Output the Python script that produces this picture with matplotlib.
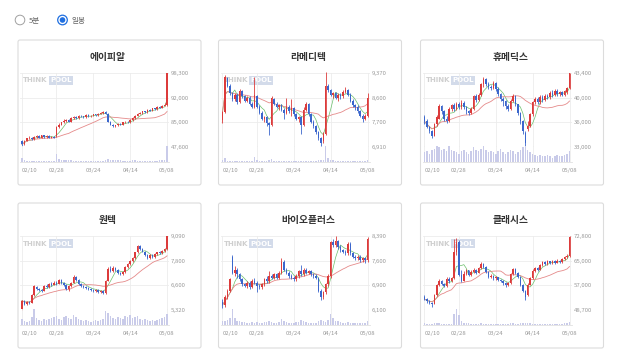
import numpy as np
import pandas as pd
import matplotlib
matplotlib.use("Agg")
import matplotlib.pyplot as plt
from matplotlib.patches import FancyBboxPatch, Circle

plt.rcParams["font.family"] = ["Noto Sans CJK KR", "DejaVu Sans"]

# ---- data -------------------------------------------------------------
date_ticks = [0, 14, 29, 44, 59]
date_labels = ["02/10", "02/28", "03/24", "04/14", "05/08"]

names = ["에이피알", "라메디텍", "휴메딕스", "원텍", "바이오플러스", "클래시스"]

# 에이피알
apr_open = [52000, 49500, 52000, 53500, 54000, 53000, 54500, 55000, 54000, 55500,
            54500, 55000, 54000, 54500, 55000, 61000, 63000, 64500, 65500, 66000,
            65000, 67500, 68000, 67500, 69000, 68500, 68000, 69500, 68500, 69000,
            70000, 69500, 70500, 71000, 71500, 70500, 65000, 63000, 62000, 62500,
            63500, 63000, 64500, 65000, 64500, 66000, 67500, 69000, 70500, 71000,
            72000, 71500, 73000, 72500, 74000, 73500, 75000, 74500, 76000, 76500]
apr_close = [49500, 52000, 53500, 54000, 53000, 54500, 55000, 54000, 55500, 54500,
             55000, 54000, 54500, 54000, 61000, 63000, 64500, 65500, 66000, 65000,
             67500, 68000, 67500, 69000, 68500, 68000, 69500, 68500, 69000, 70000,
             69500, 70500, 71000, 71500, 70500, 65000, 63000, 62000, 62500, 63500,
             63000, 64500, 65000, 64500, 66000, 67500, 69000, 70500, 71000, 72000,
             71500, 73000, 72500, 74000, 73500, 75000, 74500, 76000, 76500, 98300]
apr_high = [52500, 52500, 54000, 55000, 54500, 55000, 55500, 55500, 56000, 56000,
            55500, 55500, 55000, 55000, 62000, 64000, 65000, 66500, 67000, 66500,
            68000, 68500, 68500, 69500, 69500, 69000, 70000, 70000, 69500, 70500,
            70500, 71000, 71500, 72000, 72000, 71000, 65500, 63500, 63000, 64000,
            64000, 65000, 65500, 65500, 66500, 68000, 69500, 71000, 71500, 72500,
            72500, 73500, 73500, 74500, 74500, 75500, 75500, 76500, 77500, 98300]
apr_low = [48000, 49000, 51500, 53000, 52500, 52500, 54000, 53500, 53500, 54000,
           54000, 53500, 53500, 53500, 54500, 60500, 62500, 64000, 65000, 64500,
           64500, 67000, 67000, 67000, 68000, 67500, 67500, 68000, 68000, 68500,
           69000, 69000, 70000, 70500, 70000, 64500, 62500, 61500, 61500, 62000,
           62500, 62500, 64000, 64000, 64000, 65500, 67000, 68500, 70000, 70500,
           71000, 71000, 72000, 72000, 73000, 73000, 74000, 74000, 75500, 76000]
apr_vol = [20, 8, 6, 6, 5, 5, 6, 5, 5, 4, 5, 4, 5, 6, 50, 18, 12, 10, 8, 7,
           8, 6, 6, 5, 6, 5, 5, 6, 5, 6, 5, 6, 6, 5, 8, 18, 12, 10, 8, 7,
           8, 6, 6, 5, 6, 7, 8, 6, 5, 6, 5, 6, 5, 6, 6, 5, 7, 8, 10, 100]
apr_ylabels = ["98,300", "92,000", "85,000", "47,600"]

# 라메디텍
lmd_open = [7800, 8070, 9200, 8950, 8700, 8500, 8650, 8400, 8780, 8600,
            8450, 8550, 8350, 8250, 8600, 8250, 8050, 7850, 7900, 7700,
            7650, 8500, 8350, 8250, 8300, 8150, 8050, 8250, 8100, 8200,
            8000, 7850, 7900, 7650, 8150, 8350, 8000, 7750, 7600, 7400,
            7200, 7100, 7350, 8950, 8800, 8650, 8700, 8550, 8650, 8600,
            8750, 8800, 8650, 8450, 8300, 8250, 8100, 7950, 7850, 7950]
lmd_close = [8070, 9230, 8950, 8700, 8500, 8650, 8400, 8780, 8600, 8450,
             8550, 8350, 8250, 8650, 8250, 8050, 7850, 7900, 7700, 7650,
             8550, 8350, 8250, 8300, 8150, 8050, 8250, 8100, 8200, 8000,
             7850, 7900, 7650, 8150, 8350, 8000, 7750, 7600, 7400, 7200,
             7050, 7350, 8950, 8800, 8650, 8700, 8550, 8650, 8600, 8750,
             8800, 8650, 8450, 8300, 8250, 8100, 7950, 7850, 7950, 8550]
lmd_high = [8100, 9300, 9250, 9000, 8750, 8700, 8700, 8850, 8800, 8650,
            8600, 8600, 8400, 9250, 8650, 8300, 8100, 7950, 7950, 7750,
            8600, 8550, 8400, 8350, 8350, 8200, 8550, 8300, 8500, 8250,
            8050, 7950, 7950, 8250, 8400, 8380, 8050, 7800, 7650, 7450,
            7250, 7400, 9400, 9000, 8850, 8750, 8750, 8700, 8700, 8800,
            8900, 8850, 8700, 8500, 8350, 8300, 8150, 8000, 8000, 8700]
lmd_low = [7700, 8050, 8900, 8650, 8450, 8450, 8350, 8380, 8550, 8400,
           8400, 8300, 8200, 8200, 8200, 8000, 7800, 7750, 7600, 7320,
           7600, 8300, 8200, 8150, 8100, 7850, 8000, 8050, 7950, 7950,
           7800, 7750, 7350, 7600, 8100, 7950, 7700, 7550, 7350, 7150,
           6950, 7050, 7300, 8750, 8600, 8550, 8500, 8450, 8500, 8550,
           8700, 8600, 8400, 8250, 8150, 8050, 7900, 7750, 7800, 7900]
lmd_vol = [8, 25, 5, 5, 4, 4, 5, 4, 5, 4, 4, 5, 6, 30, 10, 6, 5, 5, 6, 8,
           15, 6, 5, 4, 5, 5, 6, 4, 5, 4, 5, 4, 6, 5, 4, 5, 4, 5, 6, 8,
           10, 12, 100, 25, 10, 8, 6, 5, 5, 6, 5, 5, 4, 5, 4, 5, 4, 5, 6, 10]
lmd_ylabels = ["9,370", "8,600", "7,700", "6,910"]

# 휴메딕스
hmd_open = [37200, 36600, 35800, 35200, 34600, 36200, 37000, 38700, 38000, 37000,
            36700, 38300, 38900, 38400, 39000, 38600, 39200, 38600, 38000, 37800,
            38400, 40100, 39600, 40300, 41800, 42500, 41900, 41500, 41300, 42000,
            41200, 40400, 39800, 39400, 38800, 38300, 39500, 40200, 39000, 37800,
            36600, 35000, 35500, 36000, 37600, 39300, 39700, 39300, 40000, 39600,
            40200, 40000, 40600, 40300, 40900, 40400, 40700, 40300, 40800, 41300]
hmd_close = [36600, 35800, 35200, 34600, 36200, 37200, 38700, 38000, 37000, 36700,
             38300, 38900, 38400, 39000, 38600, 39200, 38600, 38000, 37800, 38400,
             40100, 39600, 40300, 41800, 42500, 41900, 41500, 41300, 42000, 41200,
             40400, 39800, 39400, 38800, 38300, 39500, 40200, 39000, 37800, 36600,
             35200, 33600, 36000, 37600, 39300, 39700, 39300, 40000, 39600, 40200,
             40000, 40600, 40300, 40900, 40400, 40700, 40300, 40800, 41300, 43400]
hmd_high = [37500, 36900, 36000, 35400, 36400, 37500, 39000, 38900, 38200, 37300,
            38600, 39100, 39200, 39300, 39300, 39600, 39400, 38800, 38200, 38600,
            40300, 40500, 40600, 42000, 42800, 42700, 42100, 41700, 42300, 42100,
            41400, 40600, 40000, 39600, 39000, 39800, 40400, 40300, 39100, 37900,
            36800, 35200, 36600, 37800, 39500, 40000, 40000, 40300, 40300, 40500,
            40500, 40900, 41000, 41100, 41100, 40900, 40900, 41000, 41500, 43400]
hmd_low = [36300, 35600, 34900, 34200, 34500, 36000, 36900, 37600, 36700, 36400,
           36500, 38000, 38100, 38200, 38300, 38400, 38300, 37700, 37500, 37600,
           38200, 39300, 39400, 40100, 41500, 41600, 41100, 41000, 41100, 40900,
           40100, 39500, 38800, 38400, 38000, 38200, 39300, 38700, 37500, 36300,
           34800, 33100, 35200, 35800, 37400, 39000, 39000, 39100, 39300, 39400,
           39700, 39800, 40000, 40100, 40100, 40200, 40100, 40100, 40500, 41200]
hmd_vol = [35, 40, 30, 45, 50, 60, 55, 45, 50, 40, 60, 45, 40, 35, 30, 40, 45, 35, 30, 40,
           55, 45, 40, 50, 60, 45, 35, 40, 35, 30, 40, 50, 35, 30, 35, 45, 40, 30, 35, 45,
           55, 60, 45, 35, 30, 25, 20, 25, 20, 20, 25, 20, 15, 20, 25, 20, 20, 25, 30, 40]
hmd_ylabels = ["43,400", "40,000", "36,000", "33,000"]

# 원텍
wtk_open = [5380, 5800, 5650, 5750, 5700, 6080, 6500, 6400, 6350, 6300,
            6550, 6480, 6650, 6600, 6720, 6650, 6850, 6700, 6600, 6400,
            6550, 6700, 7000, 6850, 6650, 6550, 6500, 6450, 6400, 6350,
            6300, 6350, 6250, 6280, 6180, 6800, 7400, 7300, 7450, 7350,
            7200, 7150, 7250, 7500, 7650, 7800, 7950, 8250, 8600, 8450,
            8300, 8100, 7950, 8100, 8000, 8150, 8250, 8200, 8350, 8450]
wtk_close = [5800, 5650, 5750, 5680, 6080, 6520, 6400, 6350, 6300, 6550,
             6480, 6650, 6600, 6720, 6650, 6850, 6700, 6600, 6400, 6550,
             6700, 7000, 6850, 6650, 6550, 6500, 6450, 6400, 6350, 6300,
             6350, 6250, 6280, 6180, 6800, 7400, 7300, 7450, 7350, 7200,
             7150, 7250, 7500, 7650, 7800, 7950, 8250, 8600, 8450, 8300,
             8100, 7950, 8100, 8000, 8150, 8250, 8200, 8350, 8450, 9090]
wtk_high = [5850, 5850, 5800, 5800, 6120, 6600, 6550, 6450, 6400, 6600,
            6650, 6700, 6750, 6800, 6780, 6900, 6880, 6750, 6650, 6600,
            6750, 7080, 7050, 6900, 6700, 6600, 6550, 6500, 6450, 6400,
            6400, 6400, 6350, 6320, 6850, 7500, 7550, 7550, 7500, 7400,
            7250, 7300, 7550, 7700, 7850, 8000, 8300, 8650, 8650, 8500,
            8350, 8150, 8150, 8150, 8200, 8300, 8350, 8400, 8500, 9090]
wtk_low = [5330, 5600, 5600, 5620, 5680, 6050, 6350, 6300, 6250, 6280,
           6420, 6450, 6550, 6580, 6600, 6620, 6650, 6550, 6350, 6300,
           6500, 6680, 6800, 6600, 6480, 6450, 6400, 6350, 6300, 6250,
           6250, 6200, 6180, 6130, 6150, 6780, 7250, 7250, 7300, 7150,
           7100, 7080, 7200, 7450, 7600, 7750, 7900, 8200, 8400, 8250,
           8050, 7900, 7900, 7950, 7950, 8100, 8150, 8150, 8300, 8400]
wtk_vol = [30, 20, 15, 20, 40, 80, 35, 25, 20, 30, 25, 30, 35, 40, 45, 30, 25, 40, 45, 35,
           30, 50, 40, 30, 25, 20, 25, 20, 15, 20, 25, 20, 25, 30, 70, 60, 45, 35, 30, 40,
           35, 30, 45, 40, 50, 35, 40, 45, 30, 25, 30, 25, 20, 25, 20, 25, 30, 35, 40, 55]
wtk_ylabels = ["9,090", "7,800", "6,600", "5,320"]

# 바이오플러스
bpl_open = [6350, 6250, 6500, 6700, 7750, 7250, 7350, 7200, 7050, 6900,
            6850, 6950, 6800, 7000, 6950, 6850, 6800, 6900, 7050, 7000,
            7150, 7100, 7200, 7100, 7250, 7600, 7350, 7250, 7150, 7100,
            7050, 7150, 7300, 7200, 7350, 7250, 7300, 7200, 7150, 7100,
            6700, 6500, 6650, 6900, 7150, 8200, 8100, 8250, 8050, 7950,
            7900, 7850, 8150, 7850, 7750, 7700, 7750, 7650, 7700, 7650]
bpl_close = [6250, 6500, 6700, 7050, 7250, 7350, 7200, 7050, 6900, 6850,
             6950, 6800, 7000, 6950, 6850, 6800, 6900, 7050, 7000, 7150,
             7100, 7200, 7100, 7250, 7600, 7350, 7250, 7150, 7100, 7050,
             7150, 7300, 7200, 7350, 7250, 7300, 7200, 7150, 7100, 6700,
             6500, 6650, 6900, 7150, 8200, 8100, 8250, 8050, 7950, 7900,
             7850, 8150, 7850, 7750, 7700, 7750, 7650, 7700, 7650, 8300]
bpl_high = [6450, 6550, 6750, 7100, 7800, 7450, 7400, 7250, 7100, 6950,
            7000, 7000, 7050, 7100, 7000, 6900, 6950, 7100, 7150, 7300,
            7200, 7250, 7250, 7300, 7700, 7650, 7400, 7300, 7200, 7150,
            7200, 7350, 7500, 7400, 7400, 7350, 7350, 7250, 7200, 7120,
            6750, 6700, 6950, 7200, 8250, 8300, 8380, 8280, 8100, 8000,
            7950, 8200, 8200, 7900, 7800, 7800, 7800, 7750, 7750, 8350]
bpl_low = [6150, 6200, 6450, 6650, 7200, 7150, 7100, 7000, 6850, 6800,
           6780, 6750, 6780, 6900, 6650, 6750, 6750, 6850, 6950, 6950,
           7050, 7050, 7050, 7050, 7200, 7300, 7200, 7100, 7050, 7000,
           7000, 7100, 7150, 7150, 7200, 7200, 7150, 7100, 7050, 6650,
           6400, 6450, 6600, 6850, 7100, 8050, 8050, 8000, 7900, 7850,
           7800, 7800, 7800, 7700, 7650, 7650, 7600, 7600, 7550, 7600]
bpl_vol = [20, 25, 30, 45, 100, 40, 25, 20, 15, 15, 12, 12, 15, 12, 15, 10, 12, 14, 15, 20,
           15, 12, 12, 14, 35, 20, 15, 12, 10, 12, 14, 18, 30, 20, 15, 12, 10, 10, 12, 25,
           30, 20, 18, 30, 70, 40, 25, 20, 15, 12, 10, 15, 12, 10, 10, 12, 10, 10, 12, 25]
bpl_ylabels = ["8,390", "7,600", "6,900", "6,100"]

# 클래시스
cls_open = [53000, 52200, 51500, 51000, 50800, 53500, 56800, 58300, 57200, 56500,
            58800, 58000, 59000, 67500, 71000, 60200, 58200, 60500, 61600, 60200,
            61200, 61800, 60900, 62300, 63800, 62800, 61000, 59500, 59800, 59000,
            59300, 58500, 58200, 57500, 56700, 57400, 60300, 62000, 60800, 59500,
            57000, 55000, 53500, 57000, 59100, 61500, 62300, 61800, 63300, 64300,
            63700, 64500, 63900, 64700, 64100, 64800, 64300, 65200, 65800, 66300]
cls_close = [52200, 51500, 51000, 50800, 53500, 56800, 58300, 57200, 56500, 58800,
             58000, 59000, 67500, 71000, 60200, 58200, 60500, 61600, 60200, 61200,
             61800, 60900, 62300, 63800, 62800, 61000, 59500, 59800, 59000, 59300,
             58500, 58200, 57500, 56700, 57400, 60300, 62000, 60800, 59500, 57000,
             55000, 53000, 57000, 59100, 61500, 62300, 61800, 63300, 64300, 63700,
             64500, 63900, 64700, 64100, 64800, 64300, 65200, 65800, 66300, 72500]
cls_high = [53500, 52500, 51800, 51400, 53800, 57200, 58800, 58500, 57500, 59300,
            59500, 59400, 71800, 72000, 71500, 61800, 61500, 62000, 61800, 61700,
            62300, 62100, 62700, 64300, 64000, 63000, 61300, 60300, 60100, 59800,
            59600, 58800, 58500, 57800, 57900, 60800, 62500, 62300, 61000, 59700,
            57200, 55300, 57400, 59500, 62000, 62800, 62600, 63800, 64800, 64600,
            64900, 64700, 65100, 65000, 65200, 65100, 65600, 66300, 66800, 72800]
cls_low = [51800, 51000, 50600, 49800, 50500, 53300, 56500, 56800, 56100, 56300,
           57600, 57700, 58800, 66500, 59800, 57700, 58000, 60000, 59700, 59800,
           60800, 60500, 60600, 62000, 62300, 60600, 59100, 59000, 58600, 58600,
           58100, 57700, 57000, 56200, 56400, 57200, 60000, 60400, 59100, 56600,
           54500, 51800, 53200, 56800, 58900, 61200, 61400, 61600, 63000, 63300,
           63400, 63600, 63700, 63800, 63900, 64000, 64100, 65000, 65600, 66100]
cls_vol = [8, 6, 5, 6, 8, 10, 8, 6, 5, 6, 5, 6, 70, 100, 60, 20, 12, 10, 8, 6,
           6, 5, 6, 8, 6, 5, 5, 6, 5, 5, 6, 5, 6, 5, 6, 8, 7, 6, 5, 8,
           10, 12, 10, 8, 6, 6, 5, 6, 6, 5, 5, 6, 5, 5, 6, 5, 6, 7, 8, 14]
cls_ylabels = ["72,800", "65,000", "57,000", "48,700"]

stocks = [
    (apr_open, apr_high, apr_low, apr_close, apr_vol, apr_ylabels),
    (lmd_open, lmd_high, lmd_low, lmd_close, lmd_vol, lmd_ylabels),
    (hmd_open, hmd_high, hmd_low, hmd_close, hmd_vol, hmd_ylabels),
    (wtk_open, wtk_high, wtk_low, wtk_close, wtk_vol, wtk_ylabels),
    (bpl_open, bpl_high, bpl_low, bpl_close, bpl_vol, bpl_ylabels),
    (cls_open, cls_high, cls_low, cls_close, cls_vol, cls_ylabels),
]

# ---- layout -------------------------------------------------------------
W, H = 618, 360
UP, DOWN = "#dc3b3b", "#3b66cc"
GRID = "#ececec"
TXT = "#9a9a9a"

fig = plt.figure(figsize=(W / 100, H / 100), dpi=100)
bg = fig.add_axes([0, 0, 1, 1])
bg.set_xlim(0, W)
bg.set_ylim(H, 0)
bg.axis("off")


def rect(x, y, w, h):
    return [x / W, 1 - (y + h) / H, w / W, h / H]


# radio buttons
bg.add_patch(Circle((20, 20), 4.8, fc="white", ec="#a0a0a0", lw=0.7))
bg.text(29, 20.5, "5분", fontsize=5.5, color="#666", va="center")
bg.add_patch(Circle((62.5, 20), 4.8, fc="white", ec="#1f6fe0", lw=0.9))
bg.add_patch(Circle((62.5, 20), 2.8, fc="#1f6fe0", ec="none"))
bg.text(71, 20.5, "일봉", fontsize=5.5, color="#666", va="center")

card_x = [18, 218.5, 420.5]
card_y = [40, 203]
card_w, card_h = 183, 145
x = np.arange(60)

for i, (name, (o, h, l, c, v, ylab)) in enumerate(zip(names, stocks)):
    cx, cy = card_x[i % 3], card_y[i // 3]
    o, h, l, c, v = map(np.array, (o, h, l, c, v))

    bg.add_patch(FancyBboxPatch((cx, cy), card_w, card_h,
                                boxstyle="round,pad=0,rounding_size=2",
                                fc="white", ec="#dcdcdc", lw=0.8))
    bg.text(cx + 90, cy + 17, name, ha="center", va="center",
            fontsize=7, weight="bold", color="#333333")

    # watermark
    bg.text(cx + 5, cy + 40.5, "THINK", fontsize=5, weight="bold",
            color="#cfcfcf", va="center", family="DejaVu Sans")
    bg.text(cx + 32, cy + 40.5, "POOL", fontsize=5, weight="bold",
            color="white", va="center", family="DejaVu Sans",
            bbox=dict(fc="#d3dbea", ec="none", pad=0.8))

    lo = int(ylab[-1].replace(",", ""))
    hi = int(ylab[0].replace(",", ""))

    # price panel
    ax = fig.add_axes(rect(cx + 2, cy + 33, 149, 74))
    ax.patch.set_alpha(0)
    ax.set_xlim(-0.8, 59.8)
    ax.set_ylim(lo, hi)
    colors = np.where(c >= o, UP, DOWN)
    ax.vlines(x, l, h, colors=colors, lw=0.6, zorder=3, clip_on=False)
    ax.bar(x, np.abs(c - o), bottom=np.minimum(o, c), width=0.62,
           color=colors, lw=0, zorder=3, clip_on=False)
    ma20 = pd.Series(c).rolling(20, min_periods=1).mean()
    ma5 = pd.Series(c).rolling(5, min_periods=1).mean()
    ax.plot(x, ma5, color="#6cc06c", lw=0.5, zorder=2)
    ax.plot(x, ma20, color="#e58a8a", lw=0.6, zorder=2)
    ax.set_yticks(np.linspace(lo, hi, 4))
    ax.set_yticklabels(ylab[::-1])
    ax.yaxis.tick_right()
    ax.set_xticks(date_ticks)
    ax.set_xticklabels([])
    ax.tick_params(axis="both", length=0)
    ax.tick_params(axis="y", pad=1.5, labelsize=4.3, labelcolor=TXT)
    ax.grid(True, color=GRID, lw=0.6, zorder=0)
    for s in ax.spines.values():
        s.set_visible(False)

    # volume panel
    vax = fig.add_axes(rect(cx + 2, cy + 106, 149, 15.5))
    vax.patch.set_alpha(0)
    vax.set_xlim(-0.8, 59.8)
    vax.set_ylim(0, v.max())
    vax.bar(x, v, width=0.62, color="#c9cbe9", lw=0, zorder=2)
    vax.set_yticks([])
    vax.set_xticks(date_ticks)
    vax.set_xticklabels(date_labels)
    vax.tick_params(axis="x", length=0, pad=4.5, labelsize=4.3, labelcolor=TXT)
    vax.get_xticklabels()[0].set_ha("left")
    vax.grid(axis="x", color=GRID, lw=0.6, zorder=0)
    for k, s in vax.spines.items():
        s.set_visible(k == "bottom")
    vax.spines["bottom"].set_color("#e0e0e0")
    vax.spines["bottom"].set_linewidth(0.6)

fig.savefig("out.png", dpi=100)
